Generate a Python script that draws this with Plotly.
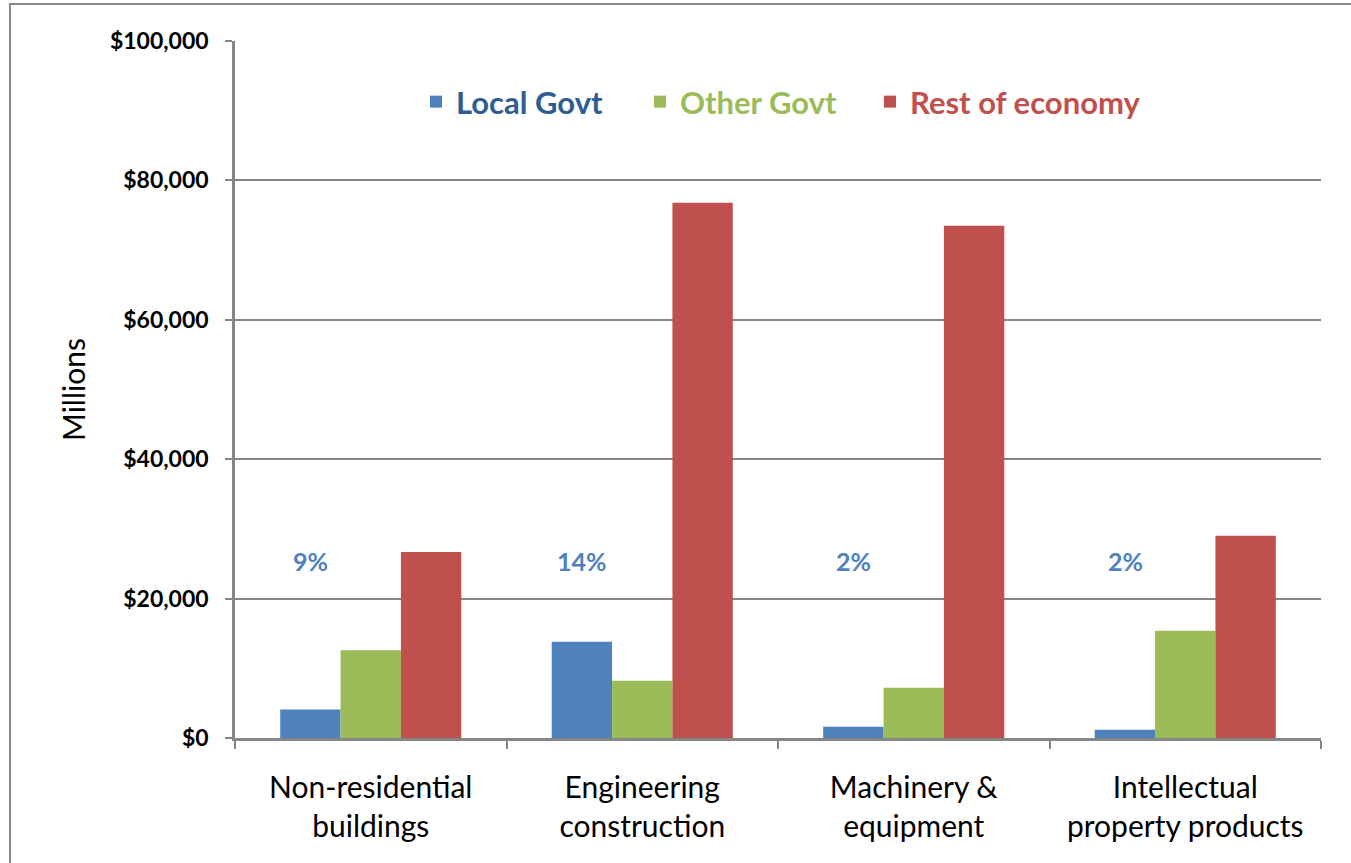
import plotly.graph_objects as go

categories = ["Non-residential<br>buildings", "Engineering<br>construction",
              "Machinery &<br>equipment", "Intellectual<br>property products"]
local_govt = [4100, 13800, 1600, 1200]
other_govt = [12600, 8200, 7200, 15400]
rest_economy = [26700, 76800, 73500, 29000]
pct_labels = ["9%", "14%", "2%", "2%"]
pct_y = [25400, 25400, 25400, 25400]

FONT = "Lato"
GRAY = "#868686"
C_BLUE = "#4F81BD"
C_GREEN = "#9BBB59"
C_RED = "#C0504D"

W, H = 1351, 863
L, R, T, B = 235, 30, 41, 125
pw = W - L - R
ph = H - T - B

def px_x(px):
    return (px - L) / pw

def px_y(py):
    return 1 - (py - T) / ph

fig = go.Figure()
fig.add_trace(go.Bar(x=categories, y=local_govt, name="Local Govt", showlegend=True,
                     marker=dict(color=C_BLUE, line=dict(width=0)), legend="legend"))
fig.add_trace(go.Bar(x=categories, y=other_govt, name="Other Govt", showlegend=True,
                     marker=dict(color=C_GREEN, line=dict(width=0)), legend="legend2"))
fig.add_trace(go.Bar(x=categories, y=rest_economy, name="Rest of economy", showlegend=True,
                     marker=dict(color=C_RED, line=dict(width=0)), legend="legend3"))

for c, t, yv in zip(categories, pct_labels, pct_y):
    fig.add_annotation(x=c, y=yv, text="<b>%s</b>" % t, showarrow=False,
                       xshift=-60, font=dict(family=FONT, size=25, color=C_BLUE))

legend_common = dict(orientation="h", yanchor="middle", y=px_y(102), xanchor="left",
                     bgcolor="rgba(0,0,0,0)", borderwidth=0)
fig.update_layout(
    width=W, height=H,
    showlegend=True,
    margin=dict(l=L, r=R, t=T, b=B, autoexpand=False),
    paper_bgcolor="white", plot_bgcolor="white",
    barmode="group", bargap=0.333, bargroupgap=0,
    font=dict(family=FONT, color="black"),
    legend=dict(**legend_common, x=px_x(416),
                font=dict(family=FONT, size=31, color="#2E5D92", weight="bold")),
    legend2=dict(**legend_common, x=px_x(640),
                 font=dict(family=FONT, size=31, color=C_GREEN, weight="bold")),
    legend3=dict(**legend_common, x=px_x(870),
                 font=dict(family=FONT, size=31, color=C_RED, weight="bold")),
    xaxis=dict(type="category", tickson="boundaries", ticks="outside", ticklen=8,
               tickcolor=GRAY, tickwidth=2, showline=True, linecolor=GRAY, linewidth=2.5,
               showgrid=False, ticklabelstandoff=21,
               tickfont=dict(family=FONT, size=30, color="black")),
    yaxis=dict(range=[0, 100000], dtick=20000, tickprefix="$", tickformat=",.0f",
               ticks="outside", ticklen=7, tickcolor=GRAY, tickwidth=2,
               showline=True, linecolor=GRAY, linewidth=2.5,
               showgrid=True, gridcolor=GRAY, gridwidth=1.5, zeroline=False,
               ticklabelstandoff=12,
               tickfont=dict(family=FONT, size=23, color="black", weight="bold"),
               title=dict(text="Millions", standoff=16,
                          font=dict(family=FONT, size=30, color="black"))),
    shapes=[dict(type="rect", xref="paper", yref="paper",
                 x0=px_x(10), x1=px_x(1400), y0=px_y(900), y1=px_y(4),
                 line=dict(color="#8C8C8C", width=2), fillcolor="rgba(0,0,0,0)", layer="below")],
)

fig.write_html("out.html")
